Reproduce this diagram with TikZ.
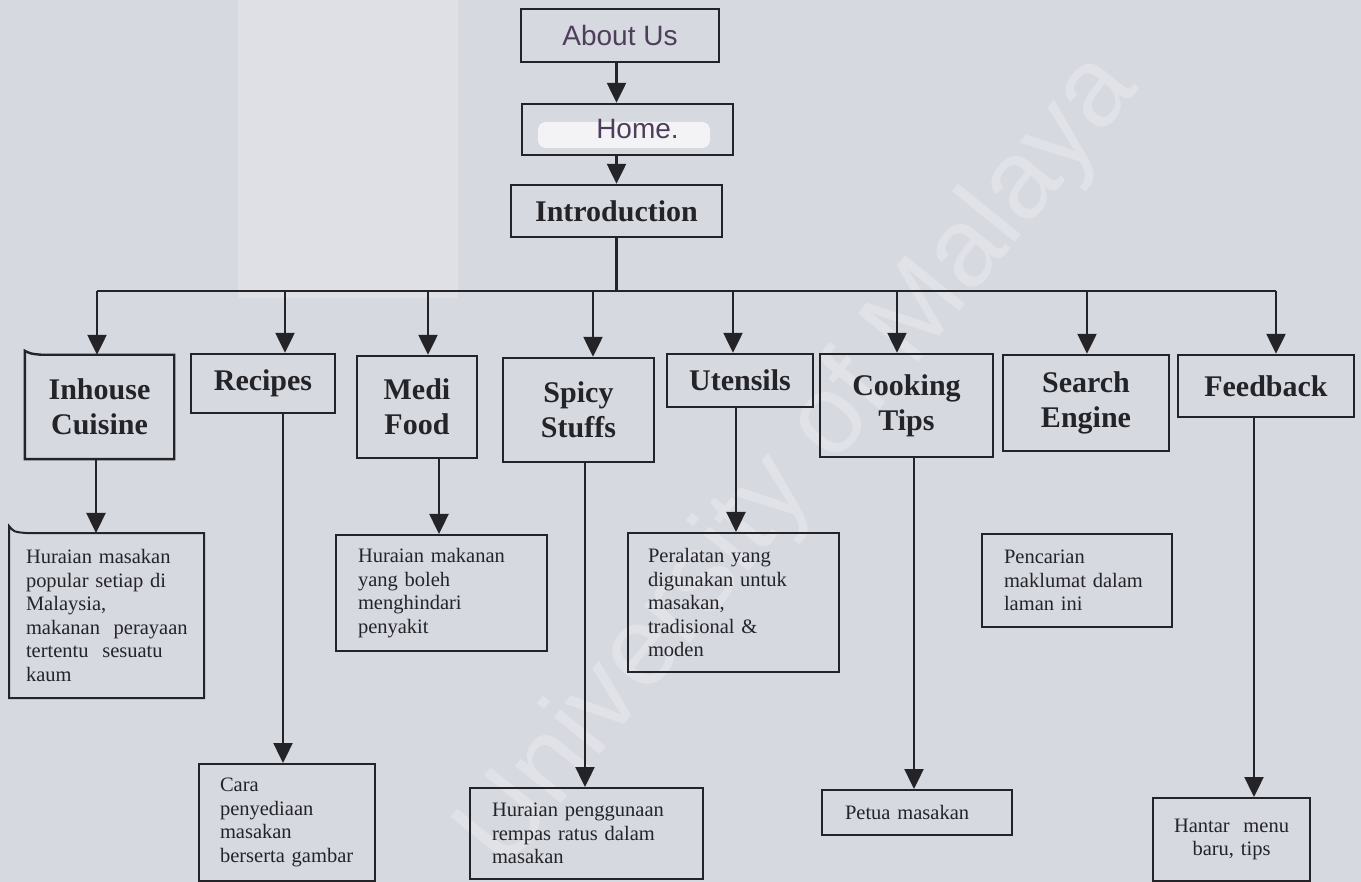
\documentclass[tikz,border=0pt]{standalone}
\usepackage{fontspec}
\setmainfont{Liberation Serif}
\newfontfamily\handfont{Liberation Sans}
\usepackage{tikz}
\usetikzlibrary{arrows.meta}
\definecolor{scanbg}{RGB}{215,217,225}
\definecolor{scanlight}{RGB}{223,224,230}
\definecolor{ink}{RGB}{36,36,40}
\definecolor{pen}{RGB}{78,62,92}
\newcommand{\titlef}{\fontsize{30}{35}\selectfont\bfseries}
\newcommand{\descf}{\fontsize{20.5}{23.5}\selectfont\hyphenpenalty=10000}
\newcommand{\handf}{\handfont\fontsize{28}{30}\selectfont}

\begin{document}
\begin{tikzpicture}[x=1pt, y=-1pt, >={Triangle[length=20pt,width=19pt]},
  titlebox/.style={draw=ink, line width=2.4pt, align=center, inner sep=0pt, font=\titlef, text=ink},
  handbox/.style={titlebox, font=\handf, text=pen},
  descbox/.style={draw=ink, line width=2pt, align=left, inner ysep=0pt, inner xsep=22pt, font=\descf, text=ink},
  conn/.style={draw=ink, line width=2.4pt},
  arr/.style={conn, ->}]

% Paper
\fill[scanbg] (0,0) rectangle (1361,882);
\useasboundingbox (0,0) rectangle (1361,882);
\fill[scanlight] (238,0) rectangle (458,298);
\node[rotate=51, text=white, opacity=.25, font=\handfont\fontsize{112}{112}\selectfont] (mark) at (800,462) {University of Malaya};
\fill[white, opacity=.7, rounded corners=8pt] (538,122) rectangle (710,148);

% Top chain
\node[handbox, minimum width=198pt, minimum height=53pt] (about) at (620,35.5) {About Us};
\node[handbox, minimum width=211pt, minimum height=51pt] (home) at (627.5,129.5) {\hspace*{20pt}Home.};
\node[titlebox, minimum width=211pt, minimum height=52pt] (intro) at (616.5,211) {Introduction};

\draw[arr] (about.south -| intro.north) -- (home.north -| intro.north);
\draw[arr] (home.south -| intro.north) -- (intro.north);

% Sections
\node[titlebox, draw=none, minimum width=147pt, minimum height=102pt] (inh) at (99.5,407) {Inhouse\\Cuisine};
\draw[ink, line width=2.4pt] ([yshift=4pt]inh.north west) .. controls ([xshift=6pt,yshift=1pt]inh.north west) .. ([xshift=17pt]inh.north west) -- (inh.north east) -- (inh.south east) -- (inh.south west) -- cycle;
\node[titlebox, minimum width=144pt, minimum height=59pt] (rec) at (263,383.5) {Recipes};
\node[titlebox, minimum width=120pt, minimum height=102pt] (med) at (417,407) {Medi\\Food};
\node[titlebox, minimum width=151pt, minimum height=104pt] (spi) at (578.5,410) {Spicy\\Stuffs};
\node[titlebox, minimum width=146pt, minimum height=53pt] (ute) at (740,380.5) {Utensils};
\node[titlebox, minimum width=173pt, minimum height=103pt] (coo) at (906.5,405.5) {Cooking\\Tips};
\node[titlebox, minimum width=166pt, minimum height=96pt] (sea) at (1086,403) {Search\\Engine};
\node[titlebox, minimum width=176pt, minimum height=62pt] (fee) at (1266,386) {Feedback};

% Bus
\coordinate (busL) at (97,291);
\coordinate (busR) at (1276,291);
\draw[conn] (intro.south) -- (intro.south |- busL);
\draw[conn] (busL) -- (busR);
\foreach \x/\b in {97/inh, 285/rec, 428/med, 593/spi, 733/ute, 897/coo, 1087/sea, 1276/fee}
  \draw[arr] (\x,291) -- (\b.north -| \x,291);

% Descriptions
\node[descbox, draw=none, inner xsep=16pt, text width=161pt, minimum height=163pt] (inhd) at (106.5,615.5)
  {Huraian~masakan\\popular~setiap~di\\Malaysia,\\makanan~~perayaan\\tertentu~~sesuatu\\kaum};
\draw[ink, line width=2pt] ([yshift=7pt]inhd.north west) .. controls ([xshift=5pt,yshift=1pt]inhd.north west) .. ([xshift=17pt]inhd.north west) -- (inhd.north east) -- (inhd.south east) -- (inhd.south west) -- cycle;
\node[descbox, inner xsep=21pt, text width=134pt, minimum height=117pt] (card) at (287,822.5)
  {Cara\\penyediaan\\masakan\\berserta~gambar};
\node[descbox, text width=167pt, minimum height=116pt] (medd) at (441.5,593)
  {Huraian~makanan\\yang~boleh\\menghindari\\penyakit};
\node[descbox, text width=189pt, minimum height=91pt] (spid) at (586.5,833.5)
  {Huraian~penggunaan\\rempas~ratus~dalam\\masakan};
\node[descbox, inner xsep=20pt, text width=171pt, minimum height=139pt] (uted) at (733.5,602.5)
  {Peralatan~yang\\digunakan~untuk\\masakan,\\tradisional~\&\\moden};
\node[descbox, inner xsep=23pt, text width=144pt, minimum height=45pt] (cood) at (917,812.5)
  {Petua~masakan};
\node[descbox, text width=146pt, minimum height=93pt] (sead) at (1077,580.5)
  {Pencarian\\maklumat~dalam\\laman~ini};
\node[descbox, align=center, inner xsep=10pt, text width=137pt, minimum height=83pt] (feed) at (1231.5,839.5)
  {Hantar~~menu\\baru,~tips};

\foreach \x/\a/\b in {96/inh/inhd, 283/rec/card, 439/med/medd, 585/spi/spid, 736/ute/uted, 914/coo/cood, 1254/fee/feed}
  \draw[arr] (\a.south -| \x,0) -- (\b.north -| \x,0);

\end{tikzpicture}
\end{document}
